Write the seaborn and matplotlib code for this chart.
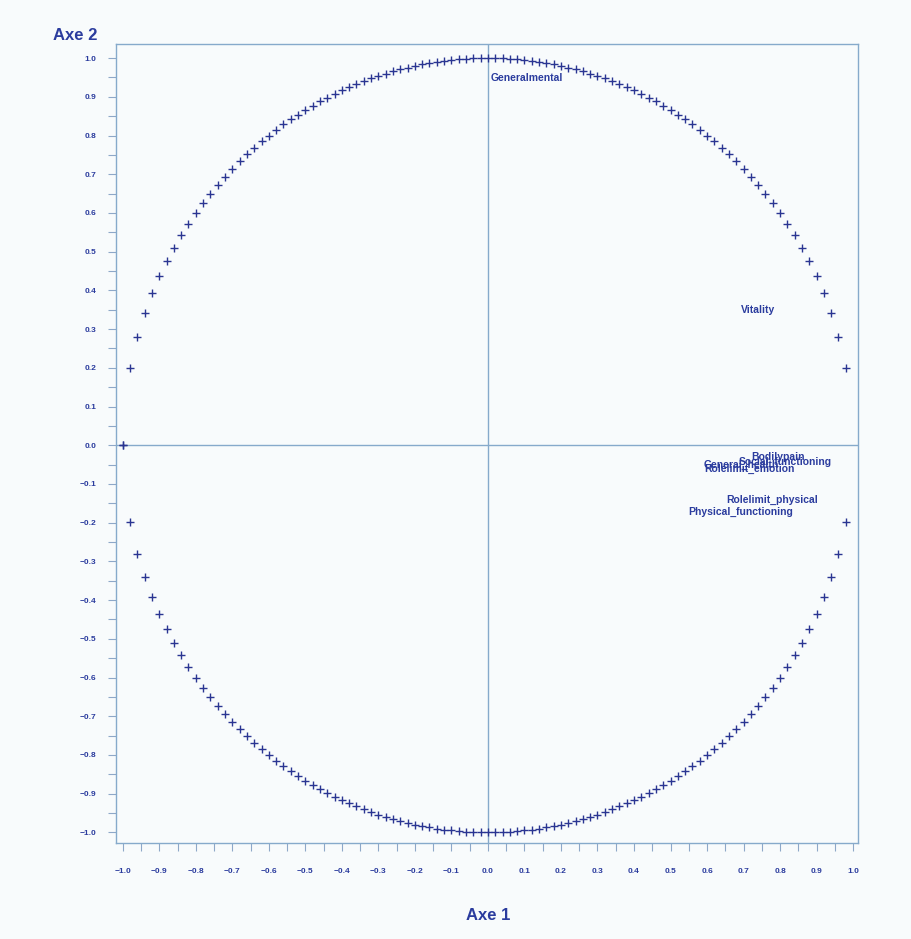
import numpy as np
import pandas as pd
import matplotlib
matplotlib.use("Agg")
import matplotlib.pyplot as plt
import seaborn as sns
from matplotlib.ticker import MultipleLocator

# Variables (correlations with axes)
var_names = ["Generalmental", "Vitality", "Bodilypain", "Social_functioning",
             "General_health", "Rolelimit_emotion", "Rolelimit_physical",
             "Physical_functioning"]
var_x = [0.107, 0.740, 0.795, 0.815, 0.695, 0.715, 0.778, 0.693]
var_y = [0.948, 0.349, -0.030, -0.042, -0.050, -0.060, -0.142, -0.173]

# Unit circle drawn as "+" markers (x grid step 0.02)
circle_x = np.round(np.arange(-1.0, 0.99, 0.02), 2)
circle_y_up = np.sqrt(np.clip(1 - circle_x ** 2, 0, None))
circ = pd.DataFrame({
    "x": np.concatenate([circle_x, circle_x]),
    "y": np.concatenate([circle_y_up, -circle_y_up]),
})

tick_values = np.round(np.arange(-1.0, 1.01, 0.1), 1)
tick_labels = [("0.0" if abs(v) < 1e-9 else f"{v:.1f}".replace("-", "\u2212"))
               for v in tick_values]

sns.set_style("white")
plt.rcParams["font.family"] = ["Liberation Sans", "DejaVu Sans"]

bg = "#f8fbfc"
navy = "#2a3592"
txt = "#2b3c9e"
linec = "#86aacb"

fig = plt.figure(figsize=(9.12, 9.39), dpi=100, facecolor=bg)
ax = fig.add_axes([0.127, 0.102, 0.814, 0.851], facecolor=bg)

ax.axhline(0, color=linec, lw=1.0, zorder=1)
ax.axvline(0, color=linec, lw=1.0, zorder=1)

sns.scatterplot(data=circ, x="x", y="y", marker="+", s=38, color=navy,
                linewidth=1.0, ax=ax, zorder=3, legend=False)

for n, xv, yv in zip(var_names, var_x, var_y):
    ax.text(xv, yv, n, ha="center", va="center", fontsize=7.5,
            fontweight="bold", color=txt, zorder=4)

ax.set_xlim(-1.019, 1.014)
ax.set_ylim(-1.028, 1.036)
ax.set_xticks(tick_values)
ax.set_yticks(tick_values)
ax.set_xticklabels(tick_labels)
ax.set_yticklabels(tick_labels)
ax.xaxis.set_minor_locator(MultipleLocator(0.05))
ax.yaxis.set_minor_locator(MultipleLocator(0.05))
ax.tick_params(axis="both", which="both", direction="out", length=6,
               width=0.8, color="#8ea8c8", labelsize=6, labelcolor=txt)
ax.tick_params(axis="x", which="both", bottom=True, pad=12)
ax.tick_params(axis="y", which="both", left=True, pad=8)
for lab in ax.get_xticklabels() + ax.get_yticklabels():
    lab.set_fontweight("bold")

for sp in ax.spines.values():
    sp.set_color(linec)
    sp.set_linewidth(1.0)

ax.set_xlabel("")
ax.set_ylabel("")
fig.text(0.535, 0.025, "Axe 1", ha="center", va="center", fontsize=12,
         fontweight="bold", color=txt)
fig.text(0.082, 0.962, "Axe 2", ha="center", va="center", fontsize=12,
         fontweight="bold", color=txt)

fig.savefig("out.png", dpi=100, facecolor=bg)
